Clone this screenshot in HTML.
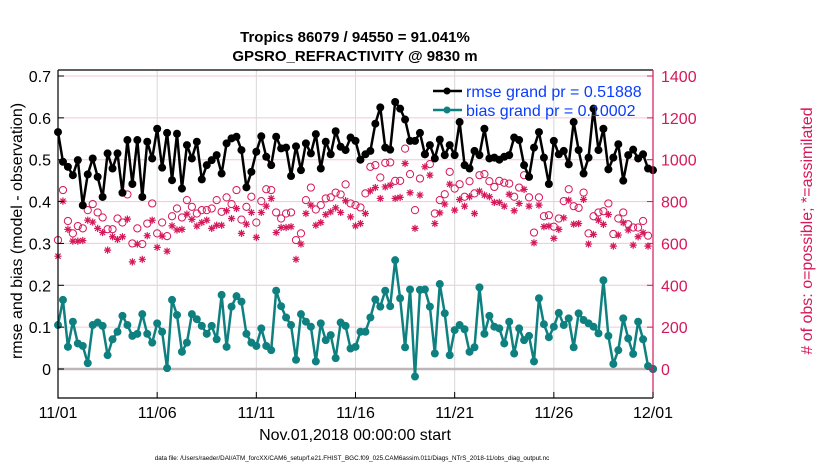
<!DOCTYPE html>
<html><head><meta charset="utf-8"><style>
html,body{margin:0;padding:0;background:#fff;}
svg{display:block;font-family:"Liberation Sans",sans-serif;}
</style></head><body>
<svg id="chart" width="830" height="470" viewBox="0 0 830 470">
<text x="355" y="42" text-anchor="middle" font-size="15" font-weight="bold">Tropics 86079 / 94550 = 91.041%</text>
<text x="355" y="61" text-anchor="middle" font-size="15" font-weight="bold">GPSRO_REFRACTIVITY @ 9830 m</text>
<g id="grid"></g>
<g id="marks"></g>
<g id="axes"></g>
<text transform="translate(22,231) rotate(-90)" text-anchor="middle" font-size="16">rmse and bias (model - observation)</text>
<text transform="translate(812,231) rotate(-90)" text-anchor="middle" font-size="16" fill="#d6175a"># of obs: o=possible; *=assimilated</text>
<text x="355" y="440" text-anchor="middle" font-size="16">Nov.01,2018 00:00:00 start</text>
<text x="352" y="460" text-anchor="middle" font-size="6.3">data file: /Users/raeder/DAI/ATM_forcXX/CAM6_setup/f.e21.FHIST_BGC.f09_025.CAM6assim.011/Diags_NTrS_2018-11/obs_diag_output.nc</text>
<g>
<line x1="433" y1="91" x2="462" y2="91" stroke="#000" stroke-width="2.5"/>
<circle cx="447" cy="91" r="3.5" fill="#000"/>
<text x="466" y="97" font-size="16" fill="#0a3cff">rmse grand pr = 0.51888</text>
<line x1="433" y1="110" x2="462" y2="110" stroke="#0f8080" stroke-width="2.5"/>
<circle cx="447" cy="110" r="3.5" fill="#0f8080"/>
<text x="466" y="116" font-size="16" fill="#0a3cff">bias grand pr = 0.10002</text>
</g>
</svg>
<script>
const rmse = [0.566,0.495,0.483,0.463,0.499,0.391,0.465,0.503,0.459,0.411,0.515,0.479,0.515,0.421,0.547,0.442,0.547,0.411,0.543,0.503,0.574,0.481,0.564,0.451,0.562,0.431,0.535,0.503,0.543,0.453,0.487,
0.499,0.511,0.467,0.539,0.551,0.555,0.523,0.434,0.471,0.519,0.556,0.507,0.487,0.555,0.527,0.529,0.461,0.532,0.475,0.539,0.515,0.561,0.479,0.543,0.513,0.568,0.531,0.523,
0.553,0.545,0.500,0.513,0.521,0.586,0.625,0.529,0.524,0.638,0.622,0.596,0.545,0.545,0.564,0.513,0.535,0.503,0.548,0.511,0.535,0.511,0.590,0.487,0.479,0.521,0.511,0.574,0.503,0.505,0.500,0.507,
0.511,0.553,0.547,0.487,0.459,0.529,0.566,0.505,0.442,0.545,0.513,0.521,0.489,0.590,0.523,0.467,0.505,0.622,0.523,0.574,0.477,0.505,0.537,0.450,0.511,0.524,0.503,0.513,0.479,0.475];
const bias = [0.105,0.165,0.053,0.113,0.061,0.055,0.014,0.105,0.111,0.103,0.033,0.071,0.089,0.127,0.105,0.079,0.084,0.131,0.084,0.063,0.109,0.089,0.002,0.165,0.129,0.041,0.063,0.131,0.119,0.103,0.084,
0.103,0.071,0.177,0.053,0.149,0.174,0.161,0.084,0.063,0.055,0.097,0.055,0.045,0.187,0.150,0.123,0.105,0.022,0.131,0.113,0.101,0.018,0.109,0.069,0.081,0.026,0.111,0.103,0.049,0.053,
0.089,0.089,0.123,0.166,0.149,0.187,0.150,0.260,0.169,0.052,0.190,-0.018,0.189,0.190,0.149,0.037,0.203,0.133,0.033,0.093,0.105,0.095,0.041,0.052,0.195,0.084,0.127,0.101,0.097,0.061,
0.113,0.037,0.097,0.069,0.079,0.018,0.169,0.107,0.076,0.101,0.134,0.105,0.121,0.052,0.133,0.117,0.109,0.101,0.085,0.212,0.079,0.012,0.045,0.121,0.073,0.036,0.113,0.071,0.007,0.000];
const possible = [616,855,707,648,683,672,759,788,748,724,668,668,719,700,834,600,672,597,695,791,648,700,635,730,767,724,807,775,743,759,759,
767,807,751,820,788,855,714,775,823,700,802,859,855,748,719,743,748,616,648,807,867,762,783,815,820,843,834,882,
791,783,772,
839,966,974,915,985,987,899,899,1053,931,759,910,1026,979,743,807,835,942,862,883,823,897,839,926,931,897,870,899,890,
886,823,867,926,820,652,820,730,735,680,719,802,859,778,770,843,648,730,748,754,791,645,719,748,692,676,676,707,637,0];
const assimilated = [539,802,667,611,611,614,711,702,672,652,568,632,619,632,716,512,597,524,637,711,581,635,563,684,664,667,740,715,683,700,711,
672,687,687,756,719,767,648,692,748,629,748,778,815,652,676,676,680,524,597,743,783,687,700,738,751,770,748,804,
727,684,695,743,851,867,815,870,878,815,820,982,842,672,831,966,926,695,746,788,883,759,810,778,823,743,850,831,823,796,796,778,
835,756,791,858,778,603,783,680,683,624,667,722,807,692,695,810,597,643,711,691,738,587,640,699,664,592,632,651,587,0];
const xTickLabels = ["11/01","11/06","11/11","11/16","11/21","11/26","12/01"];
const xTickDays = [0,5,10,15,20,25,30];
const yLeftTicks = [0,0.1,0.2,0.3,0.4,0.5,0.6,0.7];
const yLeftLabels = ["0","0.1","0.2","0.3","0.4","0.5","0.6","0.7"];
const yRightTicks = [0,200,400,600,800,1000,1200,1400];

const NS="http://www.w3.org/2000/svg";
const L=58,R=653,T=70,B=398,Y0=369,Y7=76;
const xDay=d=>L+(R-L)*d/30;
const xIdx=i=>xDay(i*0.25);
const yL=v=>Y0-(Y0-Y7)*v/0.7;
const yR=c=>Y0-(Y0-Y7)*c/1400;
function mk(tag,attrs,parent){const e=document.createElementNS(NS,tag);for(const k in attrs)e.setAttribute(k,attrs[k]);parent.appendChild(e);return e;}
const grid=document.getElementById('grid'),marks=document.getElementById('marks'),axes=document.getElementById('axes');
const PINK="#d6175a",TEAL="#0f8080";

yRightTicks.forEach((c,k)=>{
  if(c===0)return;
  const g=mk('line',{x1:L,x2:R,y1:yR(c),y2:yR(c),stroke:"#f3c6d6","stroke-width":1},grid);
  
  
});
xTickDays.forEach((d,k)=>{
  const g=mk('line',{x1:xDay(d),x2:xDay(d),y1:T,y2:B,stroke:"#d8d8d8","stroke-width":1},grid);
  
  
});
const zl=mk('line',{x1:L,x2:R,y1:yL(0),y2:yL(0),stroke:"#bdb5b8","stroke-width":2.5},grid);



possible.forEach((c,i)=>{
  const e=mk('circle',{cx:xIdx(i),cy:yR(c),r:3.6,fill:"none",stroke:PINK,"stroke-width":1},marks);
  
  
});
assimilated.forEach((c,i)=>{
  const x=xIdx(i),y=yR(c),s=3.6;
  const d=`M${x-s},${y}H${x+s}M${x},${y-s}V${y+s}M${x-s*0.72},${y-s*0.72}L${x+s*0.72},${y+s*0.72}M${x-s*0.72},${y+s*0.72}L${x+s*0.72},${y-s*0.72}`;
  const e=mk('path',{d:d,stroke:PINK,"stroke-width":1.2,fill:"none"},marks);
  
  
});
function series(arr,color,name){
  const p=mk('polyline',{points:arr.map((v,i)=>xIdx(i)+","+yL(v)).join(" "),fill:"none",stroke:color,"stroke-width":2.5,"stroke-linejoin":"round"},marks);
  
  
  arr.forEach((v,i)=>{
    const c=mk('circle',{cx:xIdx(i),cy:yL(v),r:4,fill:color},marks);
    
    
  });
}
series(rmse,"#000","rmse");
series(bias,TEAL,"bias");

const fr=mk('path',{d:`M${L},${T}H${R}M${L},${T}V${B}H${R}`,stroke:"#000","stroke-width":1.2,fill:"none"},axes);


const ra=mk('line',{x1:R,x2:R,y1:T,y2:B,stroke:PINK,"stroke-width":1.2},axes);


yLeftTicks.forEach((v,k)=>{
  const t=mk('line',{x1:L,x2:L+6,y1:yL(v),y2:yL(v),stroke:"#000"},axes);
  
  
  const tx=mk('text',{x:L-7,y:yL(v)+6,"text-anchor":"end","font-size":16},axes);
  tx.textContent=yLeftLabels[k];
  
  
});
yRightTicks.forEach((c,k)=>{
  const t=mk('line',{x1:R-6,x2:R,y1:yR(c),y2:yR(c),stroke:PINK},axes);
  
  
  const tx=mk('text',{x:R+8,y:yR(c)+6,"text-anchor":"start","font-size":16,fill:PINK},axes);
  tx.textContent=String(c);
  
  
});
xTickDays.forEach((d,k)=>{
  const t=mk('line',{x1:xDay(d),x2:xDay(d),y1:B,y2:B-6,stroke:"#000"},axes);
  
  
  const tx=mk('text',{x:xDay(d),y:418,"text-anchor":"middle","font-size":16},axes);
  tx.textContent=xTickLabels[k];
  
  
});
</script>
</body></html>
